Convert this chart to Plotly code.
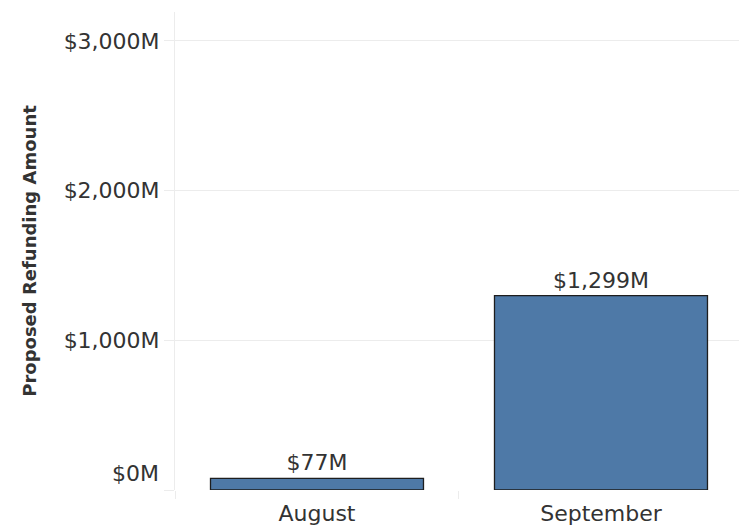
import plotly.graph_objects as go

months = ["August", "September"]
refund_amount_m = [77, 1299]
bar_labels = ["$77M", "$1,299M"]
y_tick_vals = [0, 1000, 2000, 3000]
y_tick_text = ["", "$1,000M", "$2,000M", "$3,000M"]
zero_label = "$0M"

FONT = "DejaVu Sans"
TXT = "#333333"
GRID = "#ececec"
FS = 22

fig = go.Figure(
    go.Bar(
        x=months,
        y=refund_amount_m,
        width=0.75,
        marker=dict(color="#4e79a7", line=dict(color="#1e1e1e", width=1.3)),
        text=bar_labels,
        textposition="outside",
        textfont=dict(family=FONT, size=FS, color=TXT),
        cliponaxis=False,
        hoverinfo="skip",
    )
)

fig.update_layout(
    width=739,
    height=526,
    margin=dict(l=175, r=0, t=12, b=34),
    plot_bgcolor="white",
    paper_bgcolor="white",
    font=dict(family=FONT, size=FS, color=TXT),
    showlegend=False,
    bargap=0.25,
)

fig.update_xaxes(
    type="category",
    range=[-0.5, 1.486],
    showgrid=False,
    showline=False,
    zeroline=False,
    ticks="outside",
    tickson="boundaries",
    ticklen=8,
    tickcolor=GRID,
    ticklabelstandoff=8,
    tickfont=dict(family=FONT, size=FS, color=TXT),
)

fig.update_yaxes(
    range=[0, 3193],
    tickvals=y_tick_vals,
    ticktext=y_tick_text,
    showgrid=True,
    gridcolor=GRID,
    gridwidth=1,
    zeroline=False,
    showline=True,
    linecolor=GRID,
    ticks="outside",
    ticklen=10,
    tickcolor=GRID,
    tickfont=dict(family=FONT, size=FS, color=TXT),
    title=dict(
        text="<b>Proposed Refunding Amount</b>",
        font=dict(family=FONT, size=18, color=TXT),
        standoff=22,
    ),
    automargin=False,
)

fig.add_annotation(
    x=0, xref="paper", xanchor="right", xshift=-14,
    y=0, yref="y", yanchor="middle", yshift=17,
    text=zero_label, showarrow=False,
    font=dict(family=FONT, size=FS, color=TXT),
)

fig.write_html(
    "out.html",
    config={"displayModeBar": False},
    post_script="document.body.style.margin='0';document.body.style.padding='0';",
)
